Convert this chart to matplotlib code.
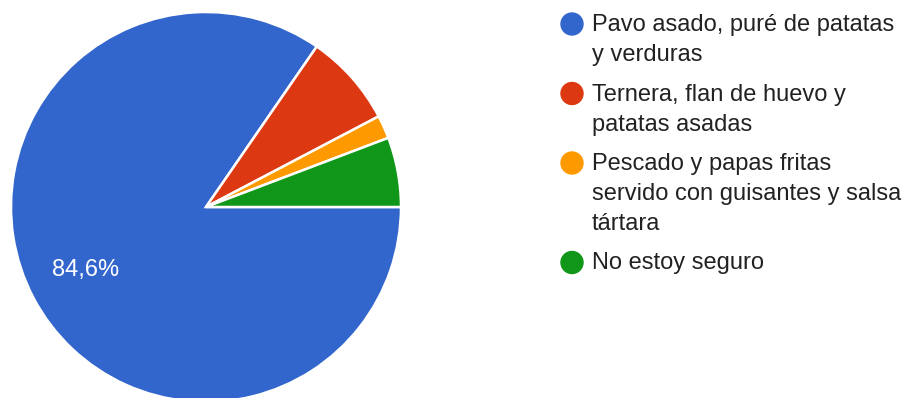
import matplotlib.pyplot as plt
from matplotlib.patches import Circle

plt.rcParams['font.family'] = ['Liberation Sans', 'DejaVu Sans']

# survey answers (52 responses)
labels = [
    "Pavo asado, puré de patatas\ny verduras",
    "Ternera, flan de huevo y\npatatas asadas",
    "Pescado y papas fritas\nservido con guisantes y salsa\ntártara",
    "No estoy seguro",
]
counts = [44, 4, 1, 3]
colors = ["#3366cc", "#dc3912", "#ff9900", "#109618"]

W, H = 908, 398
FS = 17

fig = plt.figure(figsize=(W / 100, H / 100), dpi=100)
ax = fig.add_axes([0, 0, 1, 1])


def pct_label(p):
    return f"{p:.1f}%".replace(".", ",") if p > 10 else ""


wedges, _, autotexts = ax.pie(
    counts, colors=colors, startangle=0, counterclock=False,
    center=(206, H - 207), radius=195, frame=True,
    autopct=pct_label, pctdistance=0.70,
    wedgeprops=dict(edgecolor="white", linewidth=1.8),
    textprops=dict(color="white", fontsize=FS),
)
ax.set_xlim(0, W)
ax.set_ylim(0, H)
ax.set_aspect("equal")
ax.axis("off")

# legend drawn by hand: dot + wrapped lines
line_h, gap = 30, 9.5
y = 25
for lab, col in zip(labels, colors):
    ax.add_patch(Circle((572, H - y + 1), 11, color=col, clip_on=False))
    for i, line in enumerate(lab.split("\n")):
        ax.text(592, H - (y + i * line_h), line, fontsize=FS, color="#222222",
                va="center", ha="left")
    y += len(lab.split("\n")) * line_h + gap

fig.savefig("out.png", dpi=100)
